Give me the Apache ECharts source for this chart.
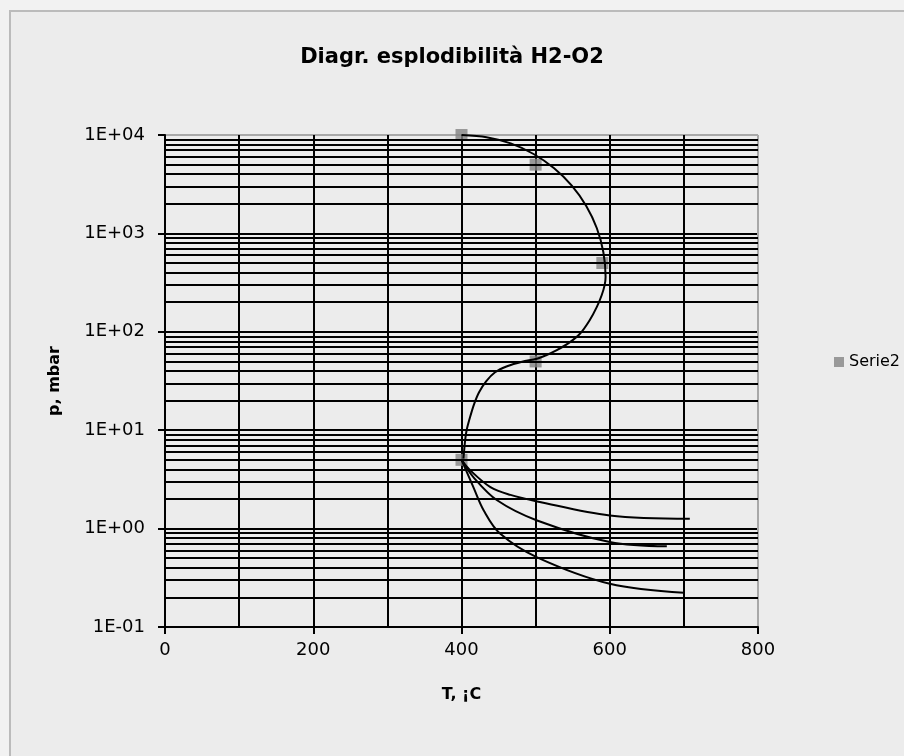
<!DOCTYPE html>
<html>
<head>
<meta charset="utf-8">
<script src="https://cdn.jsdelivr.net/npm/echarts@6/dist/echarts.min.js"></script>
<style>
  html,body{margin:0;padding:0;background:#f2f2f2;}
  #frame{position:absolute;left:9px;top:10px;width:920px;height:780px;border:2px solid #bbbbbb;background:#ececec;}
  #chart{position:absolute;left:0;top:0;width:904px;height:756px;}
</style>
</head>
<body>
<div id="frame"></div>
<div id="chart"></div>
<script>
// Diagr. esplodibilità H2-O2 — log-scale p vs T

// marker series (Serie2)
var SERIE2_T = [400, 500, 590, 500, 400];
var SERIE2_P = [10000, 5000, 500, 50, 5];

// explosion boundary (S curve)
var BOUND_T = [400, 433.7, 466.4, 497.2, 525, 548.8, 568.3, 582.6, 591.4, 594.4,
               593.1, 589.1, 582.6, 572.9, 560.1, 545.9, 528.6, 514.2, 501.6, 481.8,
               461.5, 445.3, 433.2, 423.7, 417, 411.6, 406.9, 404.9, 402.6];
var BOUND_P = [10000, 9500, 8210, 6410, 4590, 3055, 1900, 1128, 644, 362,
               298, 235, 179, 131, 96, 78, 65, 57.8, 53.2, 49.7,
               44.7, 38.8, 31.4, 24.3, 18.4, 13.6, 10, 7.9, 5.14];

// three lower branches from (400, 5)
var BR1_T = [400, 412, 439, 466, 502, 600, 708];
var BR1_P = [5, 3.9, 2.64, 2.2, 1.89, 1.36, 1.26];
var BR2_T = [400, 416, 448, 502, 600, 677];
var BR2_P = [5, 3.34, 1.94, 1.21, 0.73, 0.66];
var BR3_T = [400, 416, 430, 452, 502, 600, 700];
var BR3_P = [5, 2.64, 1.53, 0.89, 0.51, 0.275, 0.223];

// minor log gridlines (2..9 x each decade)
var DECADES = [0.1, 1, 10, 100, 1000];
var MINOR_MULTS = [2, 3, 4, 5, 6, 7, 8, 9];

function zip(xs, ys){ return xs.map(function(x, i){ return [x, ys[i]]; }); }
function expLabel(v){
  var e = Math.round(Math.log10(v));
  var s = e < 0 ? '-' : '+';
  var a = Math.abs(e);
  return '1E' + s + (a < 10 ? '0' : '') + a;
}

var minorLines = [];
DECADES.forEach(function(d){
  MINOR_MULTS.forEach(function(m){ minorLines.push({yAxis: +(d * m).toPrecision(3)}); });
});

var GW = 2; // grid line width
var curveStyle = {color:'#000', width:2};
function branch(name, xs, ys, sm){
  return {
    name:name, type:'line', data:zip(xs, ys), smooth:sm, symbol:'none', z:4,
    lineStyle:curveStyle, silent:true
  };
}

var chart = echarts.init(document.getElementById('chart'), null, {renderer:'canvas'});
chart.setOption({
  backgroundColor:'transparent',
  animation:false,
  title:{
    text:'Diagr. esplodibilità H2-O2', left:'center', top:42,
    textStyle:{fontFamily:'DejaVu Sans', fontWeight:'bold', fontSize:21, color:'#000'}
  },
  legend:{
    data:['Serie2'], left:829, top:349, orient:'vertical',
    itemWidth:10, itemHeight:10, itemGap:6,
    textStyle:{fontFamily:'DejaVu Sans', fontSize:16, color:'#000'}
  },
  grid:{left:165, right:146, top:135, bottom:129, show:false},
  xAxis:{
    type:'value', min:0, max:800, interval:200,
    name:'T, ¡C', nameLocation:'middle', nameGap:60,
    nameTextStyle:{fontFamily:'DejaVu Sans', fontWeight:'bold', fontSize:16, color:'#000'},
    axisLine:{show:true, lineStyle:{color:'#000', width:GW}},
    axisTick:{show:true, length:7, inside:false, lineStyle:{color:'#000', width:GW}},
    axisLabel:{fontFamily:'DejaVu Sans', fontSize:18, color:'#000', margin:14},
    splitLine:{show:true, lineStyle:{color:['#000','#000','#000','#000','#a8a8a8'], width:GW}},
    minorTick:{show:false, splitNumber:2},
    minorSplitLine:{show:true, lineStyle:{color:'#000', width:GW}}
  },
  yAxis:{
    type:'log', logBase:10, min:0.1, max:10000,
    name:'p, mbar', nameLocation:'middle', nameGap:102, nameRotate:90,
    nameTextStyle:{fontFamily:'DejaVu Sans', fontWeight:'bold', fontSize:16, color:'#000'},
    axisLine:{show:true, lineStyle:{color:'#000', width:GW}},
    axisTick:{show:true, length:7, inside:false, lineStyle:{color:'#000', width:GW}},
    axisLabel:{fontFamily:'DejaVu Sans', fontSize:18, color:'#000', margin:20, formatter:expLabel},
    splitLine:{show:true, lineStyle:{color:['#000','#000','#000','#000','#000','#a8a8a8'], width:GW}}
  },
  series:[
    {
      name:'grid-minor', type:'line', data:[], silent:true, z:1,
      markLine:{
        silent:true, symbol:['none','none'], label:{show:false},
        lineStyle:{color:'#000', width:GW, type:'solid'},
        emphasis:{disabled:true},
        data:minorLines
      }
    },
    {
      name:'Serie2', type:'scatter', data:zip(SERIE2_T, SERIE2_P),
      symbol:'rect', symbolSize:12, z:3,
      itemStyle:{color:'#858585'}
    },
    branch('boundary', BOUND_T, BOUND_P, 0.3),
    branch('b1', BR1_T, BR1_P, 0.35),
    branch('b2', BR2_T, BR2_P, 0.35),
    branch('b3', BR3_T, BR3_P, 0.35)
  ]
});
</script>
</body>
</html>
